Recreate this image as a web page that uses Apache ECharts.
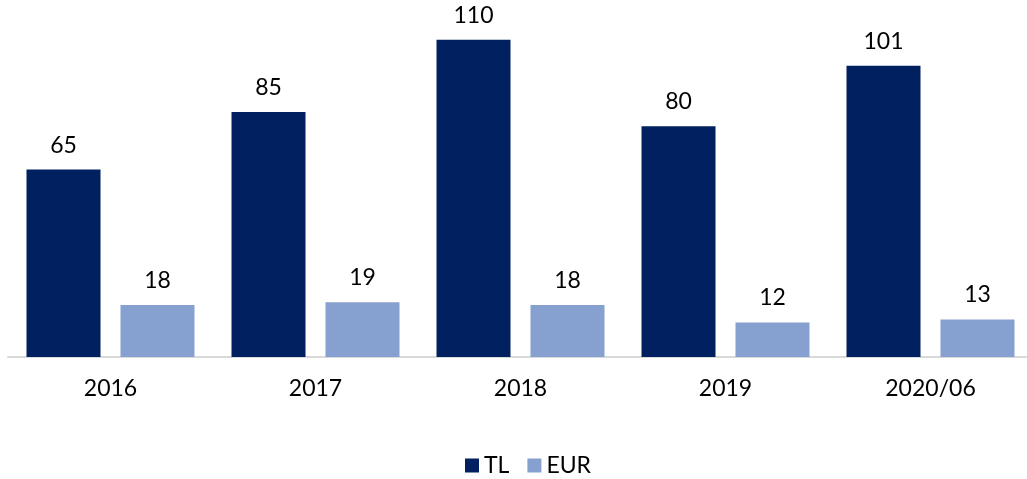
<!DOCTYPE html>
<html>
<head>
<meta charset="utf-8">
<script src="https://cdn.jsdelivr.net/npm/echarts@6/dist/echarts.min.js"></script>
<style>
  html, body { margin: 0; padding: 0; background: #fff; overflow: hidden; }
  #chart { width: 1040px; height: 479px; }
</style>
</head>
<body>
<div id="chart"></div>
<script>
// values
const years = ['2016', '2017', '2018', '2019', '2020/06']
const tlValues = [65, 85, 110, 80, 101]
const eurValues = [18, 19, 18, 12, 13]

const font = 'Lato, "Open Sans", sans-serif'

const chart = echarts.init(document.getElementById('chart'))

const barLabel = {
    show: true,
    position: 'top',
    distance: 13,
    color: '#000',
    fontFamily: font,
    fontSize: 23
}

chart.setOption({
    animation: false,
    textStyle: { fontFamily: font },
    grid: {
        left: 8,
        width: 1025,
        top: 11,
        height: 346,
        containLabel: false
    },
    legend: {
        data: ['TL', 'EUR'],
        top: 449,
        left: 460,
        itemWidth: 14,
        itemHeight: 14,
        itemGap: 18,
        icon: 'rect',
        textStyle: { fontFamily: font, fontSize: 23, color: '#000' }
    },
    xAxis: {
        type: 'category',
        data: years,
        axisLine: { lineStyle: { color: '#d9d9d9', width: 2 } },
        axisTick: { show: false },
        axisLabel: { color: '#000', fontFamily: font, fontSize: 23, margin: 20 }
    },
    yAxis: {
        type: 'value',
        min: 0,
        max: 120,
        show: false,
        splitLine: { show: false }
    },
    series: [
        {
            name: 'TL',
            type: 'bar',
            data: tlValues,
            barWidth: 74,
            barGap: '27%',
            itemStyle: { color: '#002060' },
            label: barLabel
        },
        {
            name: 'EUR',
            type: 'bar',
            data: eurValues,
            barWidth: 74,
            itemStyle: { color: '#86a1cf' },
            label: barLabel
        }
    ]
})
</script>
</body>
</html>
